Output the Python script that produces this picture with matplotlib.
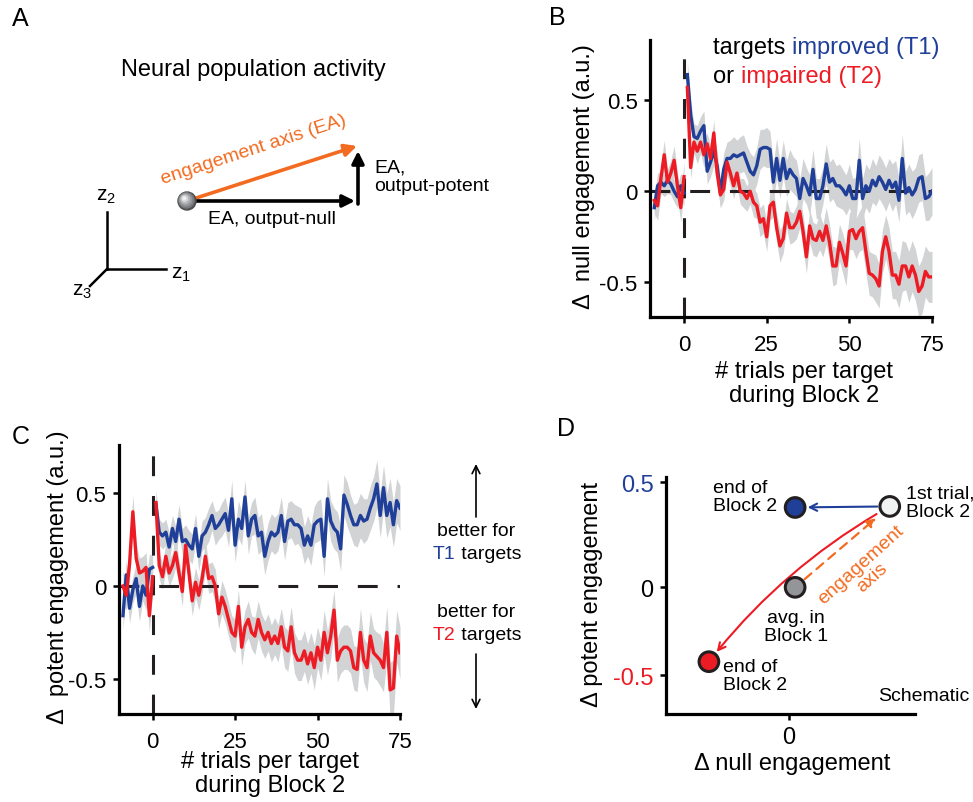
import matplotlib.pyplot as plt
from matplotlib.patches import Circle, FancyArrowPatch
import numpy as np

plt.rcParams['font.family'] = ['Liberation Sans', 'DejaVu Sans']
plt.rcParams['mathtext.fontset'] = 'custom'
plt.rcParams['mathtext.rm'] = 'Liberation Sans'
plt.rcParams['mathtext.it'] = 'Liberation Sans'

BLUE = '#1f3f99'
RED = '#ed1c24'
GREY = '#d1d3d4'
ORANGE = '#f26b21'

# ---- data -------------------------------------------------------------
pre_trials = list(range(-9, 1))
post_trials = list(range(1, 76))

# panel B: change in null engagement
b_t1_pre = [-0.09, 0.03, 0.05, 0.03, 0.06, 0.04, 0.0, -0.03, 0.03, -0.01]
b_t1_post = [0.64, 0.42, 0.30, 0.29, 0.33, 0.36, 0.11, 0.16, 0.22, 0.14,
             -0.01, 0.12, 0.18, 0.18, 0.20, 0.19, 0.20, 0.21, 0.16, 0.11,
             0.09, 0.14, 0.23, 0.24, 0.24, 0.23, 0.05, 0.18, 0.06, 0.18,
             0.07, 0.12, 0.09, 0.07, -0.04, 0.07, 0.03, -0.02, 0.12, -0.04,
             -0.04, 0.03, 0.15, 0.05, 0.07, 0.03, 0.03, 0.01, -0.02, 0.03,
             -0.04, -0.04, 0.17, -0.04, 0.03, 0.0, 0.06, 0.03, 0.08, 0.05,
             0.01, 0.06, 0.02, 0.05, -0.05, 0.18, -0.01, 0.02, -0.02, 0.01,
             0.07, 0.08, -0.04, -0.03, 0.0]
b_t2_pre = [-0.05, -0.08, 0.07, 0.20, 0.05, 0.10, 0.17, 0.03, -0.09, 0.08]
b_t2_post = [0.57, 0.13, 0.27, 0.22, 0.27, 0.20, 0.26, 0.18, 0.32, 0.10,
             -0.02, 0.01, 0.16, 0.10, 0.03, 0.10, 0.0, -0.01, -0.04, 0.0,
             -0.06, -0.08, -0.17, -0.15, -0.25, -0.08, -0.06, -0.20, -0.30, -0.26,
             -0.12, -0.20, -0.20, -0.17, -0.11, -0.22, -0.36, -0.19, -0.26, -0.27,
             -0.22, -0.27, -0.19, -0.28, -0.41, -0.41, -0.28, -0.34, -0.41, -0.22,
             -0.21, -0.26, -0.22, -0.20, -0.33, -0.45, -0.46, -0.48, -0.52, -0.33,
             -0.25, -0.33, -0.46, -0.46, -0.51, -0.41, -0.41, -0.47, -0.41, -0.46,
             -0.55, -0.52, -0.44, -0.47, -0.47]
b_t1_sem_pre = [0.07, 0.07, 0.06, 0.06, 0.07, 0.06, 0.06, 0.06, 0.07, 0.07]
b_t1_sem_post = [0.07, 0.08, 0.07, 0.07, 0.08, 0.08, 0.07, 0.08, 0.08, 0.08,
                 0.08, 0.09, 0.09, 0.10, 0.10, 0.09, 0.10, 0.10, 0.09, 0.10,
                 0.10, 0.10, 0.11, 0.10, 0.11, 0.10, 0.10, 0.11, 0.10, 0.10,
                 0.10, 0.11, 0.10, 0.10, 0.11, 0.11, 0.10, 0.11, 0.11, 0.11,
                 0.11, 0.10, 0.11, 0.11, 0.11, 0.11, 0.12, 0.11, 0.11, 0.12,
                 0.11, 0.12, 0.12, 0.11, 0.12, 0.12, 0.12, 0.11, 0.12, 0.12,
                 0.12, 0.12, 0.13, 0.12, 0.12, 0.13, 0.12, 0.13, 0.13, 0.12,
                 0.13, 0.13, 0.12, 0.13, 0.13]
b_t2_sem_pre = [0.07, 0.08, 0.08, 0.08, 0.07, 0.07, 0.08, 0.07, 0.08, 0.08]
b_t2_sem_post = [0.06, 0.06, 0.06, 0.07, 0.06, 0.07, 0.06, 0.07, 0.07, 0.06,
                 0.07, 0.06, 0.07, 0.07, 0.07, 0.07, 0.07, 0.08, 0.07, 0.07,
                 0.08, 0.07, 0.08, 0.08, 0.08, 0.08, 0.08, 0.08, 0.09, 0.08,
                 0.08, 0.09, 0.08, 0.09, 0.09, 0.09, 0.09, 0.09, 0.09, 0.09,
                 0.10, 0.09, 0.10, 0.10, 0.11, 0.10, 0.10, 0.11, 0.11, 0.10,
                 0.11, 0.11, 0.11, 0.12, 0.12, 0.12, 0.12, 0.13, 0.12, 0.12,
                 0.12, 0.13, 0.13, 0.13, 0.13, 0.14, 0.13, 0.14, 0.14, 0.14,
                 0.14, 0.15, 0.14, 0.14, 0.14]

# panel C: change in potent engagement
c_t1_pre = [-0.16, 0.06, -0.12, -0.02, 0.04, -0.11, 0.0, -0.05, 0.09, 0.10]
c_t1_post = [0.44, 0.29, 0.27, 0.29, 0.21, 0.31, 0.24, 0.36, 0.24, 0.25,
             0.22, 0.20, 0.31, 0.16, 0.27, 0.29, 0.33, 0.38, 0.31, 0.33,
             0.36, 0.39, 0.30, 0.47, 0.22, 0.36, 0.31, 0.48, 0.27, 0.36,
             0.38, 0.27, 0.29, 0.16, 0.24, 0.29, 0.27, 0.29, 0.38, 0.24,
             0.35, 0.36, 0.33, 0.33, 0.31, 0.22, 0.27, 0.22, 0.33, 0.35,
             0.36, 0.16, 0.47, 0.35, 0.31, 0.29, 0.20, 0.49, 0.44, 0.38,
             0.33, 0.33, 0.38, 0.35, 0.36, 0.42, 0.47, 0.55, 0.38, 0.53,
             0.38, 0.45, 0.33, 0.46, 0.42]
c_t2_pre = [0.0, -0.05, 0.12, 0.40, 0.15, 0.07, 0.08, 0.10, -0.16, 0.05]
c_t2_post = [0.45, 0.11, 0.05, 0.16, 0.07, 0.11, 0.18, 0.07, -0.03, 0.22,
             0.07, -0.08, 0.02, -0.05, 0.04, 0.16, 0.04, 0.05, 0.0, -0.15,
             -0.06, -0.11, -0.18, -0.25, -0.27, -0.11, -0.33, -0.22, -0.18, -0.25,
             -0.27, -0.18, -0.25, -0.29, -0.25, -0.31, -0.27, -0.31, -0.22, -0.33,
             -0.35, -0.22, -0.36, -0.40, -0.40, -0.35, -0.42, -0.36, -0.44, -0.33,
             -0.40, -0.25, -0.36, -0.27, -0.13, -0.40, -0.35, -0.33, -0.33, -0.35,
             -0.44, -0.45, -0.25, -0.40, -0.44, -0.27, -0.36, -0.38, -0.40, -0.44,
             -0.25, -0.56, -0.55, -0.27, -0.36]
c_t1_sem_pre = [0.08, 0.08, 0.08, 0.07, 0.08, 0.08, 0.08, 0.08, 0.08, 0.07]
c_t1_sem_post = [0.07, 0.07, 0.07, 0.07, 0.08, 0.07, 0.08, 0.08, 0.07, 0.08,
                 0.08, 0.08, 0.08, 0.08, 0.08, 0.08, 0.09, 0.08, 0.09, 0.08,
                 0.09, 0.09, 0.09, 0.10, 0.09, 0.10, 0.09, 0.09, 0.10, 0.09,
                 0.10, 0.10, 0.10, 0.10, 0.10, 0.10, 0.10, 0.10, 0.10, 0.10,
                 0.10, 0.10, 0.11, 0.10, 0.11, 0.10, 0.11, 0.11, 0.10, 0.11,
                 0.11, 0.11, 0.11, 0.11, 0.11, 0.11, 0.12, 0.11, 0.12, 0.11,
                 0.11, 0.12, 0.12, 0.12, 0.11, 0.12, 0.12, 0.13, 0.12, 0.12,
                 0.12, 0.13, 0.12, 0.12, 0.12]
c_t2_sem_pre = [0.08, 0.08, 0.09, 0.09, 0.08, 0.08, 0.08, 0.08, 0.09, 0.08]
c_t2_sem_post = [0.07, 0.07, 0.07, 0.07, 0.07, 0.07, 0.08, 0.07, 0.08, 0.07,
                 0.08, 0.08, 0.08, 0.08, 0.08, 0.08, 0.08, 0.08, 0.09, 0.08,
                 0.09, 0.09, 0.09, 0.09, 0.09, 0.09, 0.10, 0.09, 0.10, 0.09,
                 0.10, 0.10, 0.10, 0.10, 0.10, 0.10, 0.10, 0.10, 0.10, 0.11,
                 0.11, 0.11, 0.11, 0.11, 0.11, 0.11, 0.11, 0.11, 0.12, 0.11,
                 0.11, 0.12, 0.12, 0.12, 0.11, 0.12, 0.12, 0.12, 0.12, 0.12,
                 0.12, 0.12, 0.13, 0.12, 0.13, 0.13, 0.13, 0.13, 0.14, 0.13,
                 0.14, 0.15, 0.15, 0.14, 0.14]

# panel D: schematic states (end T1, 1st trial, Block 1 avg, end T2)
d_null = [0.03, 0.48, 0.03, -0.38]
d_potent = [0.38, 0.385, 0.0, -0.354]
d_face = [BLUE, '#f1f2f2', '#939598', RED]
d_ytick_pos = [-0.418, 0.0, 0.5]
d_ytick_lab = ['-0.5', '0', '0.5']

# ---- figure -----------------------------------------------------------
W, H = 973, 803
fig = plt.figure(figsize=(W / 100, H / 100), dpi=100)


def box(l, t, r, b):
    return [l / W, 1 - b / H, (r - l) / W, (b - t) / H]


# full-figure overlay in pixel coords for the diagram + free text
ov = fig.add_axes([0, 0, 1, 1], zorder=5)
ov.set_xlim(0, W)
ov.set_ylim(H, 0)
ov.axis('off')


def style(ax):
    ax.set_facecolor('none')
    for s in ['top', 'right']:
        ax.spines[s].set_visible(False)
    for s in ['left', 'bottom']:
        ax.spines[s].set_linewidth(2.3)
    ax.tick_params(direction='out', width=1.8, length=4, labelsize=16)
    ax.tick_params(axis='x', pad=8)
    ax.tick_params(axis='y', pad=5)


def trace(ax, x, m, s, color):
    m = np.array(m)
    s = np.array(s)
    ax.fill_between(x, m - s, m + s, color=GREY, lw=0, zorder=1)
    ax.plot(x, m, color=color, lw=2.4, zorder=3)


# ---- panel A ----------------------------------------------------------
ov.text(12, 19, 'A', fontsize=18, ha='left', va='center')
ov.text(253, 70, 'Neural population activity', fontsize=17, ha='center', va='center')
ov.plot([107, 107], [213, 270], color='k', lw=1.8)
ov.plot([107, 166], [270, 270], color='k', lw=1.8)
ov.plot([107, 90], [270, 287], color='k', lw=1.8)
ov.text(96, 196, r'z$_2$', fontsize=15, ha='left', va='center')
ov.text(171, 275, r'z$_1$', fontsize=15, ha='left', va='center')
ov.text(72, 292, r'z$_3$', fontsize=15, ha='left', va='center')

head = dict(shrinkA=0, shrinkB=0, mutation_scale=18, lw=2.6)
ov.annotate('', xy=(357, 147), xytext=(193, 200),
            arrowprops=dict(arrowstyle='-|>', color=ORANGE, **head))
ov.annotate('', xy=(355, 202), xytext=(195, 202),
            arrowprops=dict(arrowstyle='-|>', color='k', **head))
ov.annotate('', xy=(358, 152), xytext=(358, 205),
            arrowprops=dict(arrowstyle='-|>', color='k', **head))
for r, c, dx in [(9, '#4d4d4f', 0), (7.6, '#7a7b7e', -0.6), (6, '#97989b', -1.2),
                 (4.4, '#b5b6b8', -1.8), (2.8, '#d4d5d6', -2.3), (1.4, '#f0f0f0', -2.7)]:
    ov.add_patch(Circle((187 + dx, 202 + dx), r, color=c, zorder=6))
ov.text(254, 150, 'engagement axis (EA)', color=ORANGE, fontsize=14,
        rotation=18, ha='center', va='center', rotation_mode='anchor')
ov.text(374, 177, 'EA,\noutput-potent', fontsize=14, ha='left', va='center',
        linespacing=1.1)
ov.text(272, 220, 'EA, output-null', fontsize=14, ha='center', va='center')

# ---- panel B ----------------------------------------------------------
axB = fig.add_axes(box(650, 41, 932, 318))
style(axB)
trace(axB, pre_trials, b_t1_pre, b_t1_sem_pre, BLUE)
trace(axB, post_trials, b_t1_post, b_t1_sem_post, BLUE)
trace(axB, pre_trials, b_t2_pre, b_t2_sem_pre, RED)
trace(axB, post_trials, b_t2_post, b_t2_sem_post, RED)
axB.axhline(0, color='#231f20', lw=2.2, dashes=(6.5, 6.5), zorder=2)
axB.axvline(0, color='#231f20', lw=2.2, dashes=(6.5, 6.5), zorder=2)
axB.set_xlim(-10.3, 75)
axB.set_ylim(-0.69, 0.83)
axB.set_xticks([0, 25, 50, 75])
axB.set_yticks([-0.5, 0, 0.5])
axB.set_yticklabels(['-0.5', '0', '0.5'])

ov.text(549, 18, 'B', fontsize=18, ha='left', va='center')
ov.text(584, 177, 'Δ  null engagement (a.u.)', fontsize=17, rotation=90,
        ha='center', va='center')
ov.text(804, 384, '# trials per target\nduring Block 2', fontsize=17,
        ha='center', va='center', linespacing=1.15)
t = ov.text(713, 48, 'targets ', fontsize=17, ha='left', va='center')
ov.annotate('improved (T1)', xy=(1, 0), xycoords=t, va='bottom', ha='left',
            fontsize=17, color=BLUE)
t = ov.text(713, 77, 'or ', fontsize=17, ha='left', va='center')
ov.annotate('impaired (T2)', xy=(1, 0), xycoords=t, va='bottom', ha='left',
            fontsize=17, color=RED)

# ---- panel C ----------------------------------------------------------
axC = fig.add_axes(box(119, 446, 400, 715))
style(axC)
trace(axC, pre_trials, c_t1_pre, c_t1_sem_pre, BLUE)
trace(axC, post_trials, c_t1_post, c_t1_sem_post, BLUE)
trace(axC, pre_trials, c_t2_pre, c_t2_sem_pre, RED)
trace(axC, post_trials, c_t2_post, c_t2_sem_post, RED)
axC.axhline(0, color='#231f20', lw=2.2, dashes=(6.5, 6.5), zorder=2)
axC.axvline(0, color='#231f20', lw=2.2, dashes=(6.5, 6.5), zorder=2)
axC.set_xlim(-10.2, 75)
axC.set_ylim(-0.69, 0.76)
axC.set_xticks([0, 25, 50, 75])
axC.set_yticks([-0.5, 0, 0.5])
axC.set_yticklabels(['-0.5', '0', '0.5'])

ov.text(12, 437, 'C', fontsize=18, ha='left', va='center')
ov.text(58, 577, 'Δ  potent engagement (a.u.)', fontsize=17, rotation=90,
        ha='center', va='center')
ov.text(270, 774, '# trials per target\nduring Block 2', fontsize=17,
        ha='center', va='center', linespacing=1.15)
ov.annotate('', xy=(476, 465), xytext=(476, 518),
            arrowprops=dict(arrowstyle='->', lw=1.2, color='k', mutation_scale=14,
                            shrinkA=0, shrinkB=0))
ov.annotate('', xy=(476, 710), xytext=(476, 655),
            arrowprops=dict(arrowstyle='->', lw=1.2, color='k', mutation_scale=14,
                            shrinkA=0, shrinkB=0))
ov.text(476, 532, 'better for', fontsize=14, ha='center', va='center')
t = ov.text(433, 555, 'T1', fontsize=14, ha='left', va='center', color=BLUE)
ov.annotate(' targets', xy=(1, 0), xycoords=t, va='bottom', ha='left', fontsize=14)
ov.text(476, 613, 'better for', fontsize=14, ha='center', va='center')
t = ov.text(433, 636, 'T2', fontsize=14, ha='left', va='center', color=RED)
ov.annotate(' targets', xy=(1, 0), xycoords=t, va='bottom', ha='left', fontsize=14)

# ---- panel D ----------------------------------------------------------
axD = fig.add_axes(box(666, 478, 915, 715))
style(axD)
axD.set_xlim(-0.584, 0.60)
axD.set_ylim(-0.603, 0.525)
axD.set_xticks([0])
axD.set_xticklabels(['0'])
axD.set_yticks(d_ytick_pos)
axD.set_yticklabels(d_ytick_lab)
axD.tick_params(labelsize=17)
axD.tick_params(axis='x', pad=5)
for lab, c in zip(axD.get_yticklabels(), [RED, 'k', BLUE]):
    lab.set_color(c)

end1, first, avg, end2 = [(x, y) for x, y in zip(d_null, d_potent)]
axD.add_patch(FancyArrowPatch(first, end1, arrowstyle='->', color=BLUE, lw=1.5,
                              mutation_scale=13, shrinkA=9, shrinkB=9, zorder=3))
axD.add_patch(FancyArrowPatch(first, end2, arrowstyle='->', color=RED, lw=1.5,
                              mutation_scale=13, shrinkA=11, shrinkB=9,
                              connectionstyle='arc3,rad=0.1', zorder=3))
axD.add_patch(FancyArrowPatch(avg, first, arrowstyle='-|>', color=ORANGE, lw=1.6,
                              linestyle=(0, (4, 3)), mutation_scale=13,
                              shrinkA=9, shrinkB=13, zorder=3))
axD.scatter(d_null, d_potent, s=200, c=d_face, edgecolors='#231f20',
            linewidths=2.2, zorder=4, clip_on=False)

axD.text(-0.36, 0.433, 'end of\nBlock 2', fontsize=14, ha='left', va='center',
         linespacing=1.1)
axD.text(0.555, 0.405, '1st trial,\nBlock 2', fontsize=14, ha='left', va='center',
         linespacing=1.1)
axD.text(0.035, -0.185, 'avg. in\nBlock 1', fontsize=14, ha='center', va='center',
         linespacing=1.1)
axD.text(-0.315, -0.42, 'end of\nBlock 2', fontsize=14, ha='left', va='center',
         linespacing=1.1)
axD.text(0.86, -0.516, 'Schematic', fontsize=14, ha='right', va='center')
axD.text(0.37, 0.08, 'engagement\naxis', fontsize=14, color=ORANGE, rotation=42,
         ha='center', va='center', rotation_mode='anchor', linespacing=1.0)

ov.text(557, 429, 'D', fontsize=18, ha='left', va='center')
ov.text(592, 594, 'Δ potent engagement', fontsize=17, rotation=90,
        ha='center', va='center')
ov.text(792, 764, 'Δ null engagement', fontsize=17, ha='center', va='center')

fig.savefig('out.png', dpi=100)
